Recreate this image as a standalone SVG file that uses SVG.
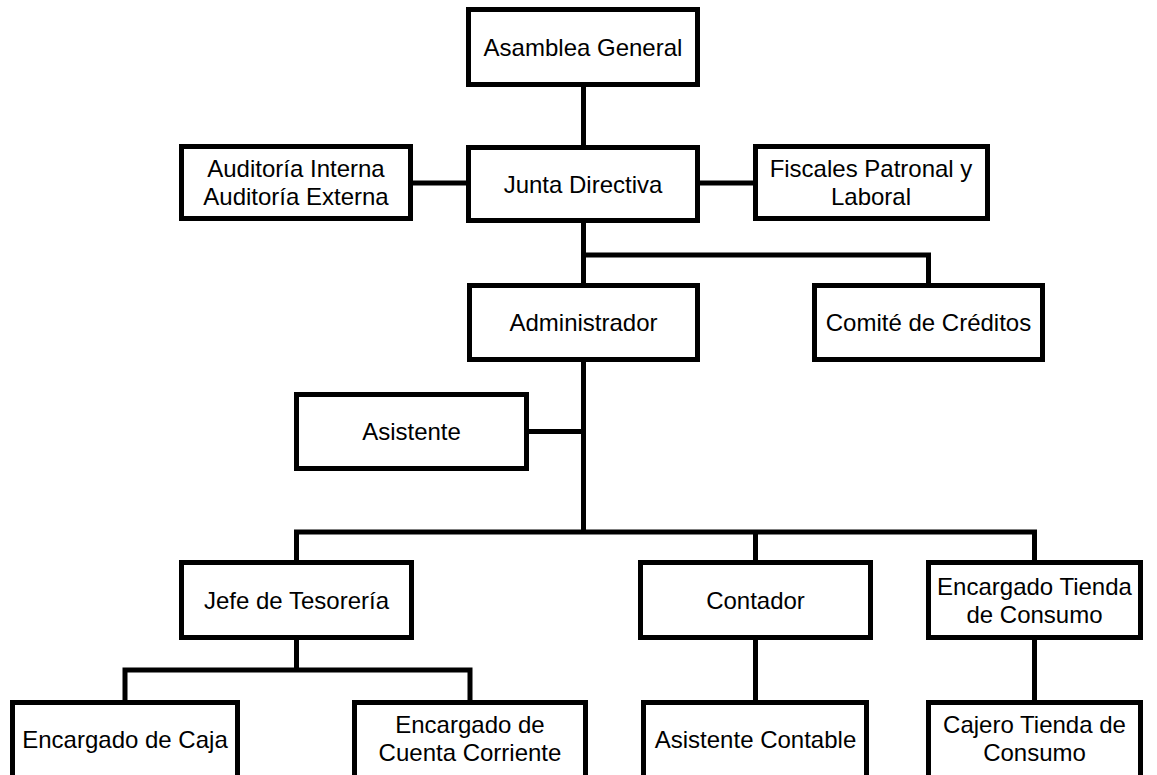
<svg xmlns="http://www.w3.org/2000/svg" width="1157" height="775" viewBox="0 0 1157 775">
  <style>
    .box { fill: #ffffff; stroke: #000000; stroke-width: 5; }
    .lbl { font-family: "Liberation Sans", Arial, sans-serif; font-size: 24px; fill: #000000; text-anchor: middle; }
    .link { fill: none; stroke: #000000; stroke-width: 5; stroke-linecap: butt; stroke-linejoin: miter; }
  </style>
  <rect width="1157" height="775" fill="#ffffff"/>

  <!-- connectors -->
  <g id="connectors" class="link">
    <path d="M583.5 87 V147"/>
    <path d="M413 183 H469"/>
    <path d="M698 183 H755"/>
    <path d="M583.5 221 V285 M583.5 255 H928.5 V285"/>
    <path d="M583.5 360 V534"/>
    <path d="M527 431.5 H583.5"/>
    <path d="M296.5 562 V532 H1034.5 V562 M755.5 532 V562"/>
    <path d="M296.5 638 V670 M125 702 V670 H470 V702"/>
    <path d="M755.5 638 V702"/>
    <path d="M1034.5 638 V702"/>
  </g>

  <g id="asamblea">
    <rect class="box" x="468.5" y="9.5" width="229" height="75"/>
    <text class="lbl" x="583" y="55.5">Asamblea General</text>
  </g>

  <g id="junta">
    <rect class="box" x="468.5" y="147.5" width="229" height="73"/>
    <text class="lbl" x="583" y="192.5">Junta Directiva</text>
  </g>

  <g id="auditoria">
    <rect class="box" x="181.5" y="146.5" width="229" height="72"/>
    <text class="lbl" x="296" y="177">Auditoría Interna</text>
    <text class="lbl" x="296" y="205">Auditoría Externa</text>
  </g>

  <g id="fiscales">
    <rect class="box" x="755.5" y="146.5" width="232" height="72"/>
    <text class="lbl" x="871" y="177">Fiscales Patronal y</text>
    <text class="lbl" x="871" y="205">Laboral</text>
  </g>

  <g id="administrador">
    <rect class="box" x="469.5" y="285.5" width="228" height="74"/>
    <text class="lbl" x="583.5" y="331">Administrador</text>
  </g>

  <g id="comite">
    <rect class="box" x="814.5" y="285.5" width="228" height="74"/>
    <text class="lbl" x="928.5" y="331">Comité de Créditos</text>
  </g>

  <g id="asistente">
    <rect class="box" x="296.5" y="394.5" width="230" height="74"/>
    <text class="lbl" x="411.5" y="440">Asistente</text>
  </g>

  <g id="tesoreria">
    <rect class="box" x="181.5" y="562.5" width="230" height="75"/>
    <text class="lbl" x="296.5" y="608.5">Jefe de Tesorería</text>
  </g>

  <g id="contador">
    <rect class="box" x="640.5" y="562.5" width="230" height="75"/>
    <text class="lbl" x="755.5" y="608.5">Contador</text>
  </g>

  <g id="tienda">
    <rect class="box" x="928.5" y="562.5" width="212" height="75"/>
    <text class="lbl" x="1034.5" y="594.5">Encargado Tienda</text>
    <text class="lbl" x="1034.5" y="622.5">de Consumo</text>
  </g>

  <!-- bottom row runs past the lower edge of the page -->
  <g id="caja">
    <rect class="box" x="12.5" y="702.5" width="225" height="85"/>
    <text class="lbl" x="125" y="747.5">Encargado de Caja</text>
  </g>

  <g id="cuenta">
    <rect class="box" x="354.5" y="702.5" width="231" height="85"/>
    <text class="lbl" x="470" y="733">Encargado de</text>
    <text class="lbl" x="470" y="761">Cuenta Corriente</text>
  </g>

  <g id="asistente-contable">
    <rect class="box" x="643.5" y="702.5" width="223" height="85"/>
    <text class="lbl" x="755.5" y="747.5">Asistente Contable</text>
  </g>

  <g id="cajero">
    <rect class="box" x="928.5" y="702.5" width="212" height="85"/>
    <text class="lbl" x="1034.5" y="733">Cajero Tienda de</text>
    <text class="lbl" x="1034.5" y="761">Consumo</text>
  </g>
</svg>
